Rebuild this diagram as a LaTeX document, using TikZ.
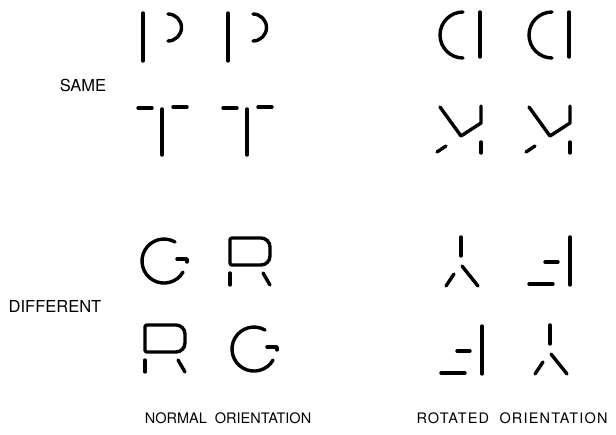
\documentclass[tikz,border=0pt]{standalone}
\usepackage{fontspec}
\setmainfont{TeX Gyre Heros}
\usetikzlibrary{positioning}
\tikzset{
    glyph/.style={
        line width=3.4pt,
        line cap=round,
        line join=round,
        black
    },
    sidelabel/.style={
        font=\fontsize{16.5}{19}\selectfont,
        inner sep=0pt
    },
    footlabel/.style={
        font=\fontsize{14.5}{17}\selectfont,
        inner sep=0pt
    }
}

\begin{document}
\begin{tikzpicture}[x=1pt, y=-1pt]
    \useasboundingbox (0,0) rectangle (616,434);

    % normal orientation, same pairs
    \foreach \dx in {0,85} {
        \begin{scope}[shift={(\dx,0)}]
            \draw[glyph] (143,13) -- (143,61);
            \draw[glyph] (168,14) arc[start angle=-90, end angle=90, radius=13.5];
            \draw[glyph] (138,108) -- (152,108);
            \draw[glyph] (173,107) -- (187,107);
            \draw[glyph] (162,109) -- (162,155);
        \end{scope}
    }

    % rotated orientation, same pairs
    \foreach \dx in {0,89} {
        \begin{scope}[shift={(\dx,0)}]
            \draw[glyph] (463,12) arc[start angle=270, end angle=90, radius=23];
            \draw[glyph] (480,12) -- (480,57);
            \draw[glyph] (440,107) -- (461,136) -- (481,123) -- (481,106);
            \draw[glyph] (437,152) -- (446,146);
            \draw[glyph] (481,142) -- (481,153);
        \end{scope}
    }

    % normal orientation, different pairs
    \foreach \dx/\dy in {0/0,90/88} {
        \begin{scope}[shift={(\dx,\dy)}]
            \draw[glyph] (175,242) arc[start angle=-60, end angle=-330, radius=22];
            \draw[glyph] (177,259) -- (187,259) -- (187,262);
        \end{scope}
    }
    \foreach \dx/\dy in {0/0,-85/87} {
        \begin{scope}[shift={(\dx,\dy)}]
            \draw[glyph] (245,238) [rounded corners=9pt] -- (270,238) -- (270,265) -- (245,265)
                [rounded corners=2pt] -- (230,265) -- (230,238) -- cycle;
            \draw[glyph] (230,273) -- (230,285);
            \draw[glyph] (263,273) -- (270,285);
        \end{scope}
    }

    % rotated orientation, different pairs
    \foreach \dx/\dy in {0/0,89/88} {
        \begin{scope}[shift={(\dx,\dy)}]
            \draw[glyph] (461,237) -- (461,256);
            \draw[glyph] (454,274) -- (446,286);
            \draw[glyph] (462,266) -- (478,286);
        \end{scope}
    }
    \foreach \dx/\dy in {0/0,-88/89} {
        \begin{scope}[shift={(\dx,\dy)}]
            \draw[glyph] (570,237) -- (570,285);
            \draw[glyph] (545,262) -- (558,262);
            \draw[glyph] (529,284) -- (553,284);
        \end{scope}
    }

    \node[sidelabel] (same) at (83,85) {SAME};
    \node[sidelabel] (different) at (55,306) {DIFFERENT};
    \node[footlabel] (normal) at (228,418) {NORMAL\ \ ORIENTATION};
    \node[footlabel] (rotated) at (512,418)
        {\addfontfeature{LetterSpace=8}ROTATED\ \ ORIENTATION};
\end{tikzpicture}
\end{document}
